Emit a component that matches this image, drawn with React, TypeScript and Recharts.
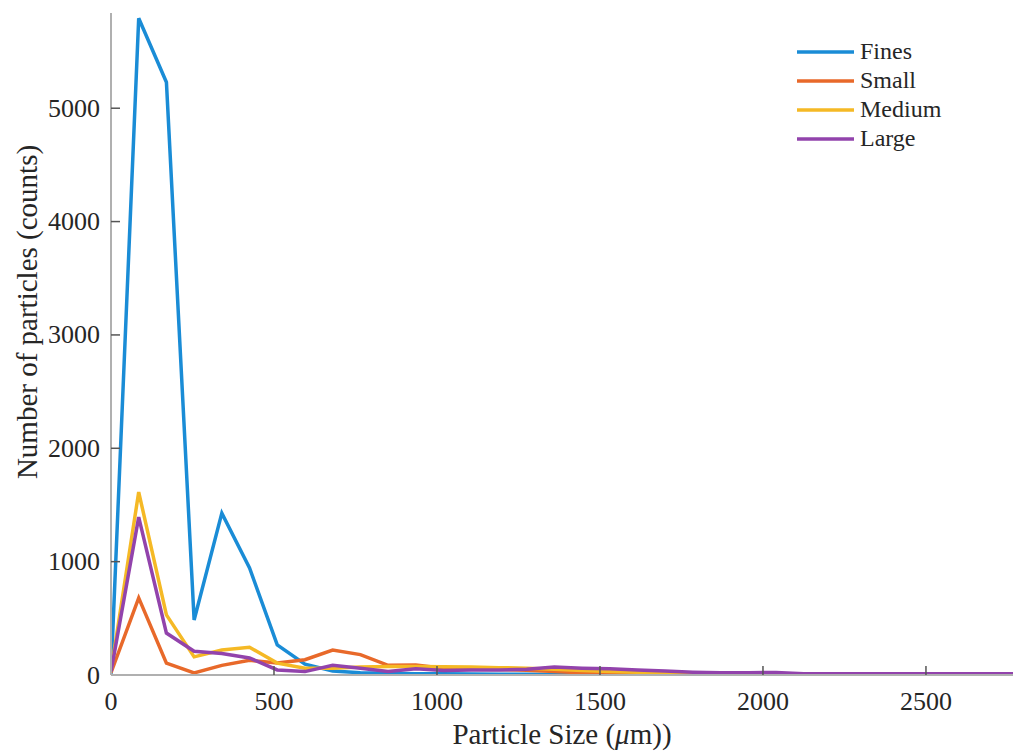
import React from "react";
import { LineChart, Line, XAxis, YAxis } from "recharts";

// Particle size bins (µm)
const sizes = [0, 85, 170, 255, 340, 425, 510, 595, 680, 765, 850, 935, 1020, 1105, 1190, 1275, 1360, 1445, 1530, 1615, 1700, 1785, 1870, 1955, 2040, 2125, 2210, 2295, 2380, 2465, 2550, 2635, 2720, 2805];

const fines = [10, 5794, 5229, 485, 1428, 944, 265, 95, 35, 20, 15, 12, 10, 8, 7, 6, 5, 5, 4, 4, 3, 3, 3, 2, 2, 2, 2, 2, 2, 1, 1, 1, 1, 1];
const small = [20, 680, 105, 18, 85, 130, 105, 135, 220, 180, 85, 88, 60, 50, 48, 42, 30, 20, 15, 10, 8, 6, 5, 5, 4, 4, 3, 3, 3, 3, 2, 2, 2, 2];
const medium = [30, 1614, 530, 160, 220, 245, 105, 60, 60, 70, 75, 75, 72, 70, 65, 60, 50, 40, 30, 25, 20, 18, 15, 12, 10, 10, 8, 8, 8, 6, 6, 5, 5, 5];
const large = [30, 1393, 370, 210, 190, 150, 45, 30, 85, 60, 30, 55, 40, 45, 45, 50, 70, 60, 55, 45, 35, 25, 20, 20, 22, 12, 10, 10, 10, 10, 10, 10, 10, 10];

const xTicks = [0, 500, 1000, 1500, 2000, 2500];
const yTicks = [0, 1000, 2000, 3000, 4000, 5000];

const seriesDefs = [
  { key: "fines", name: "Fines", color: "#1a8cd6", values: fines },
  { key: "small", name: "Small", color: "#e8692a", values: small },
  { key: "medium", name: "Medium", color: "#f5b925", values: medium },
  { key: "large", name: "Large", color: "#9243ac", values: large },
];

const data = sizes.map((s, i) => {
  const row: any = { size: s };
  seriesDefs.forEach((d) => (row[d.key] = d.values[i]));
  return row;
});

const FONT = "'Liberation Serif', 'Times New Roman', serif";
const TICK_MARGIN = 11;
const TICK_LEN = 9;
const TEXT = "#262626";

const YTick = (props: any) => {
  const { x, y, payload } = props;
  const ax = x + TICK_MARGIN;
  return (
    <g>
      {payload.value !== 0 && (
        <line x1={ax} x2={ax + TICK_LEN} y1={y} y2={y} stroke="#555" strokeWidth={1.5} />
      )}
      <text x={x} y={y} textAnchor="end" dominantBaseline="central" fontFamily={FONT} fontSize={26} fill={TEXT}>
        {payload.value}
      </text>
    </g>
  );
};

const XTick = (props: any) => {
  const { x, y, payload } = props;
  const ay = y - TICK_MARGIN;
  return (
    <g>
      {payload.value !== 0 && (
        <line x1={x} x2={x} y1={ay} y2={ay - TICK_LEN} stroke="#555" strokeWidth={1.5} />
      )}
      <text x={x} y={y + 15} textAnchor="middle" dominantBaseline="central" fontFamily={FONT} fontSize={26} fill={TEXT}>
        {payload.value}
      </text>
    </g>
  );
};

const XLabel = (props: any) => {
  const vb = props.viewBox;
  return (
    <text x={vb.x + vb.width / 2} y={vb.y + 69} textAnchor="middle" fontFamily={FONT} fontSize={29} fill={TEXT}>
      Particle Size (<tspan fontStyle="italic">μ</tspan>m))
    </text>
  );
};

const YLabel = () => {
  const cx = 27;
  const cy = 312;
  return (
    <text x={cx} y={cy} transform={`rotate(-90, ${cx}, ${cy})`} textAnchor="middle" dominantBaseline="central" fontFamily={FONT} fontSize={29} fill={TEXT}>
      Number of particles (counts)
    </text>
  );
};

const LegendBox = () => (
  <div style={{ position: "absolute", left: 797, top: 37, fontFamily: FONT, fontSize: 24, color: TEXT }}>
    {seriesDefs.map((d) => (
      <div key={d.key} style={{ display: "flex", alignItems: "center", height: 29 }}>
        <svg width={57} height={6} style={{ marginRight: 6 }}>
          <line x1={0} x2={57} y1={3} y2={3} stroke={d.color} strokeWidth={3.5} />
        </svg>
        <span>{d.name}</span>
      </div>
    ))}
  </div>
);

export default function App() {
  return (
    <div style={{ position: "absolute", left: 0, top: 0, width: 1013, height: 751, background: "#fff" }}>
      <LineChart width={1013} height={751} data={data} margin={{ top: 13, right: 0, bottom: 36, left: 0 }}>
        <XAxis
          dataKey="size"
          type="number"
          domain={[0, 2767]}
          allowDataOverflow
          ticks={xTicks}
          tickSize={0}
          tickMargin={TICK_MARGIN}
          tick={<XTick />}
          height={40}
          axisLine={{ stroke: "#b0b0b0", strokeWidth: 2 }}
          label={<XLabel />}
          interval={0}
        />
        <YAxis
          type="number"
          domain={[0, 5840]}
          allowDataOverflow
          ticks={yTicks}
          tickSize={0}
          tickMargin={TICK_MARGIN}
          tick={<YTick />}
          width={111}
          axisLine={{ stroke: "#b0b0b0", strokeWidth: 2 }}
          label={<YLabel />}
          interval={0}
        />
        {seriesDefs.map((d) => (
          <Line
            key={d.key}
            type="linear"
            dataKey={d.key}
            name={d.name}
            stroke={d.color}
            strokeWidth={3.5}
            dot={false}
            isAnimationActive={false}
          />
        ))}
      </LineChart>
      <LegendBox />
    </div>
  );
}
